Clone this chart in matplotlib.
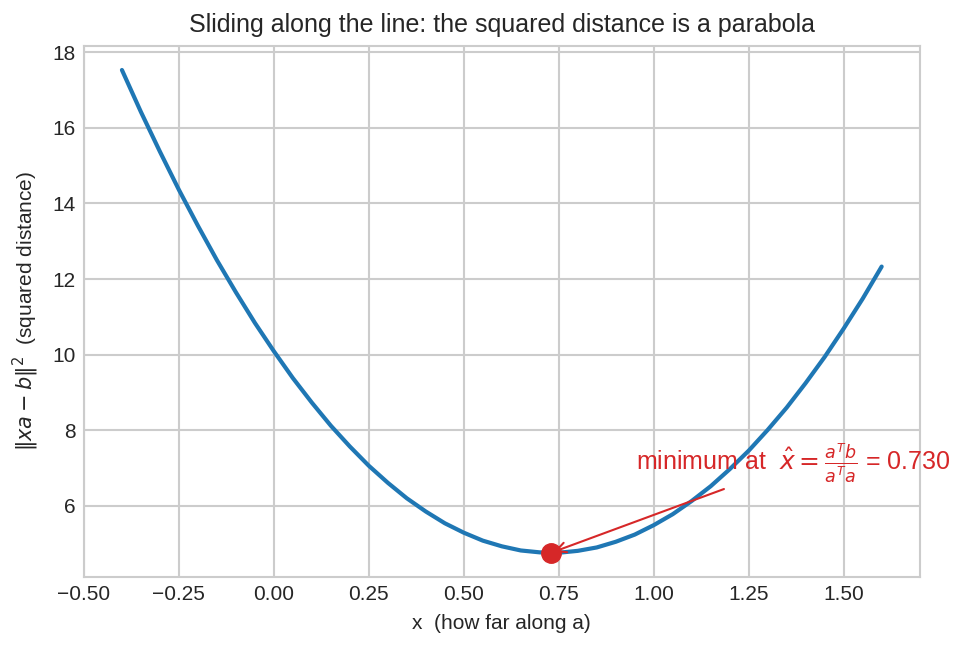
import matplotlib
matplotlib.use("Agg")
import matplotlib.pyplot as plt

# squared distance ||x a - b||^2, every 0.05
x_vals = [-0.40, -0.35, -0.30, -0.25, -0.20, -0.15, -0.10, -0.05,
          0.00, 0.05, 0.10, 0.15, 0.20, 0.25, 0.30, 0.35, 0.40,
          0.45, 0.50, 0.55, 0.60, 0.65, 0.70, 0.75, 0.80, 0.85,
          0.90, 0.95, 1.00, 1.05, 1.10, 1.15, 1.20, 1.25, 1.30,
          1.35, 1.40, 1.45, 1.50, 1.55, 1.60]
dist_sq = [17.53, 16.42, 15.37, 14.36, 13.41, 12.50, 11.65, 10.84,
           10.09, 9.38, 8.73, 8.12, 7.57, 7.06, 6.61, 6.20, 5.85,
           5.54, 5.29, 5.08, 4.93, 4.82, 4.77, 4.76, 4.81, 4.90,
           5.05, 5.24, 5.49, 5.78, 6.13, 6.52, 6.97, 7.46, 8.01,
           8.60, 9.25, 9.94, 10.69, 11.48, 12.33]

# minimum
x_hat = 0.730
min_val = 4.76

plt.style.use("seaborn-v0_8-whitegrid")
plt.rcParams["font.family"] = ["Liberation Sans", "DejaVu Sans"]

fig, ax = plt.subplots(figsize=(9.65, 6.46), dpi=100)

ax.plot(x_vals, dist_sq, color="#1f77b4", linewidth=3, solid_joinstyle="round")
ax.plot([x_hat], [min_val], "o", color="#d62728", markersize=14, zorder=5)

ax.annotate(r"minimum at  $\hat{x} = \frac{a^Tb}{a^Ta}$ = 0.730",
            xy=(x_hat, min_val), xytext=(0.953, 7.12),
            fontsize=18, color="#d62728", va="center", ha="left",
            arrowprops=dict(arrowstyle="->", color="#d62728", lw=1.5))

ax.set_title("Sliding along the line: the squared distance is a parabola",
             fontsize=18, pad=10)
ax.set_xlabel("x  (how far along a)", fontsize=15, labelpad=7)
ax.set_ylabel(r"$\|xa - b\|^2$  (squared distance)", fontsize=15, labelpad=8)
ax.tick_params(labelsize=15, pad=6)
ax.grid(True, color="#cccccc", linewidth=1.5)
for s in ax.spines.values():
    s.set_color("#cccccc")
    s.set_linewidth(1.5)

fig.subplots_adjust(left=0.087, right=0.953, top=0.929, bottom=0.107)
plt.savefig("out.png", dpi=100)
